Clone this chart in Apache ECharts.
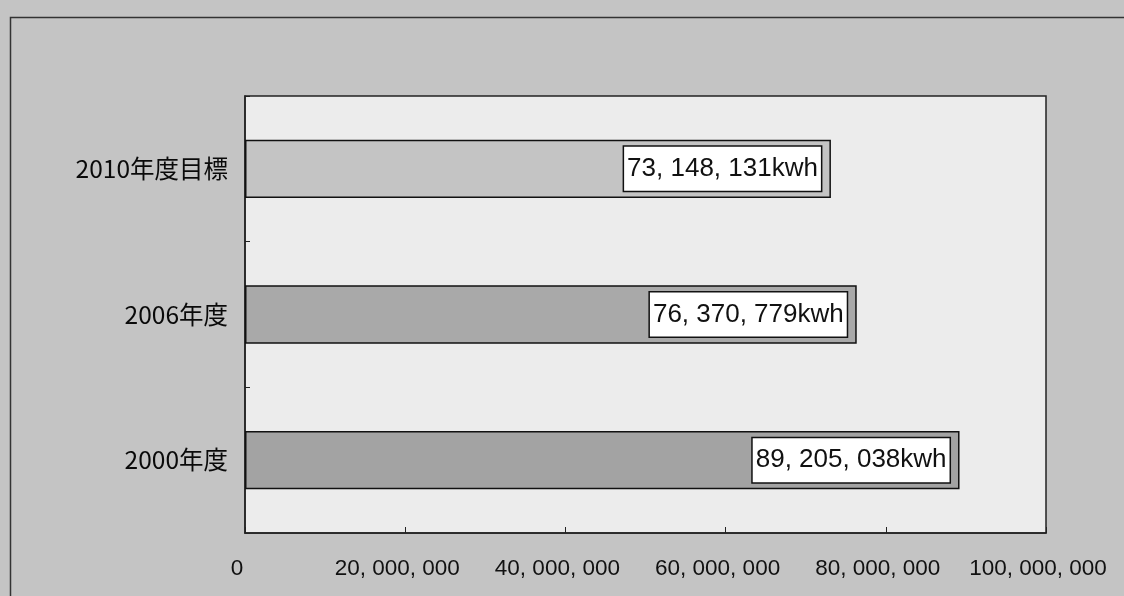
<!DOCTYPE html>
<html>
<head>
<meta charset="utf-8">
<script src="https://cdn.jsdelivr.net/npm/echarts@6/dist/echarts.min.js"></script>
<style>
html,body{margin:0;padding:0;background:#c6c6c6;}
#main{width:1124px;height:596px;}
</style>
</head>
<body>
<div id="main"></div>
<script>
const categories = ['2000年度', '2006年度', '2010年度目標'];
const values = [89205038, 76370779, 73148131];
const valueLabels = ['89, 205, 038kwh', '76, 370, 779kwh', '73, 148, 131kwh'];
const xTickLabels = ['0', '20, 000, 000', '40, 000, 000', '60, 000, 000', '80, 000, 000', '100, 000, 000'];

const barColors = ['#a3a3a3', '#a9a9a9', '#c4c4c4'];

const chart = echarts.init(document.getElementById('main'));
chart.setOption({
  backgroundColor: '#c4c4c4',
  animation: false,
  graphic: [{
    type: 'rect', left: 8, top: 15, z: -1,
    shape: {width: 1130, height: 600},
    style: {fill: 'none', stroke: '#333', lineWidth: 1.5}
  }],
  grid: {left: 245, right: 78, top: 96, bottom: 63, show: true,
         backgroundColor: '#ececec', borderColor: '#222', borderWidth: 1.5},
  xAxis: {
    type: 'value', min: 0, max: 100000000, interval: 20000000,
    splitLine: {show: false},
    axisLine: {show: true, lineStyle: {color: '#222', width: 1.5}},
    axisTick: {show: true, inside: true, length: 6, lineStyle: {color: '#222'}},
    axisLabel: {
      margin: 24, color: '#111', fontSize: 22.5,
      fontFamily: 'Liberation Sans, Arial, sans-serif',
      padding: [0, 16, 0, 0],
      formatter: (v, i) => xTickLabels[Math.round(v / 20000000)]
    }
  },
  yAxis: {
    type: 'category', data: categories,
    axisLine: {show: true, lineStyle: {color: '#222', width: 1.5}},
    axisTick: {show: true, inside: true, length: 5, lineStyle: {color: '#222'}},
    axisLabel: {margin: 17, color: '#0a0a0a', fontSize: 24.5,
      fontFamily: 'Noto Sans CJK JP, sans-serif'}
  },
  series: [{
    type: 'bar',
    barWidth: '40%',
    data: values.map((v, i) => ({value: v, itemStyle: {color: barColors[i]}})),
    itemStyle: {borderColor: '#111', borderWidth: 1.5},
    label: {
      show: true, position: 'insideRight', distance: 10,
      formatter: p => valueLabels[p.dataIndex],
      color: '#111', fontSize: 26, lineHeight: 30,
      fontFamily: 'Liberation Sans, Arial, sans-serif',
      backgroundColor: '#fff', borderColor: '#111', borderWidth: 1.5,
      padding: [7, 3, 7, 3]
    }
  }]
});
</script>
</body>
</html>
